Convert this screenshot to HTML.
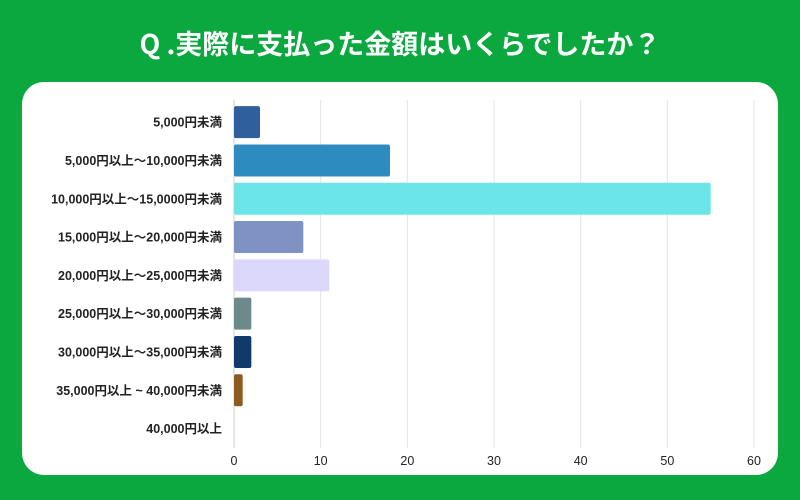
<!DOCTYPE html>
<html><head><meta charset="utf-8"><style>
html,body{margin:0;padding:0;}
body{width:800px;height:500px;background:#0aa83f;font-family:"Liberation Sans","Noto Sans CJK JP",sans-serif;position:relative;overflow:hidden;}
#title{position:absolute;left:0;top:23px;width:800px;text-align:center;color:#fff;font-weight:bold;font-size:27px;font-family:"Noto Sans CJK JP","Liberation Sans",sans-serif;}
#card{position:absolute;left:22px;top:82px;width:756px;height:393px;background:#fff;border-radius:22px;}
svg{position:absolute;left:0;top:0;}
</style></head><body>
<div id="title">Q .実際に支払った金額はいくらでしたか？</div>
<div id="card"></div>
<svg id="chart" width="800" height="500"></svg>
<script>
const categories=["5,000円未満","5,000円以上〜10,000円未満","10,000円以上〜15,0000円未満","15,000円以上〜20,000円未満","20,000円以上〜25,000円未満","25,000円以上〜30,000円未満","30,000円以上〜35,000円未満","35,000円以上 ~ 40,000円未満","40,000円以上"];
const values=[3,18,55,8,11,2,2,1,0];
const colors=["#2f5f9d","#2e8bbf","#6ce5e8","#7e93c4","#dcd8fb","#6d8a8b","#0f3a6b","#8d5a1f","#cccccc"];
const ticks=[0,10,20,30,40,50,60];
const svg=document.getElementById('chart');
const NS="http://www.w3.org/2000/svg";
const x0=234,x1=754,xmax=60,yTop=103,rowH=38.3,barH=32;
const xs=v=>x0+(v/xmax)*(x1-x0);
const yc=i=>yTop+rowH*i+rowH/2;
function mk(t,a){const e=document.createElementNS(NS,t);for(const k in a)e.setAttribute(k,a[k]);svg.appendChild(e);return e;}
ticks.forEach(t=>{
  const l=mk('line',{x1:xs(t),x2:xs(t),y1:100,y2:448,stroke:t===0?'#cccccc':'#e3e3e3','stroke-width':1});
  
  
  const tx=mk('text',{x:xs(t),y:465,'text-anchor':'middle','font-size':12.5,fill:'#222','font-family':'Liberation Sans, sans-serif'});
  tx.textContent=t;
  
  
});
categories.forEach((c,i)=>{
  const tx=mk('text',{x:222,y:yc(i)+4.5,'text-anchor':'end','font-size':12.5,'font-weight':'bold',fill:'#222','font-family':'Liberation Sans, Noto Sans CJK JP, sans-serif'});
  tx.textContent=c;
  
  
  if(values[i]>0){
    const r=mk('rect',{x:x0,y:yc(i)-barH/2,width:xs(values[i])-x0,height:barH,fill:colors[i],rx:2});
    
    
  }
});
</script>
</body></html>
